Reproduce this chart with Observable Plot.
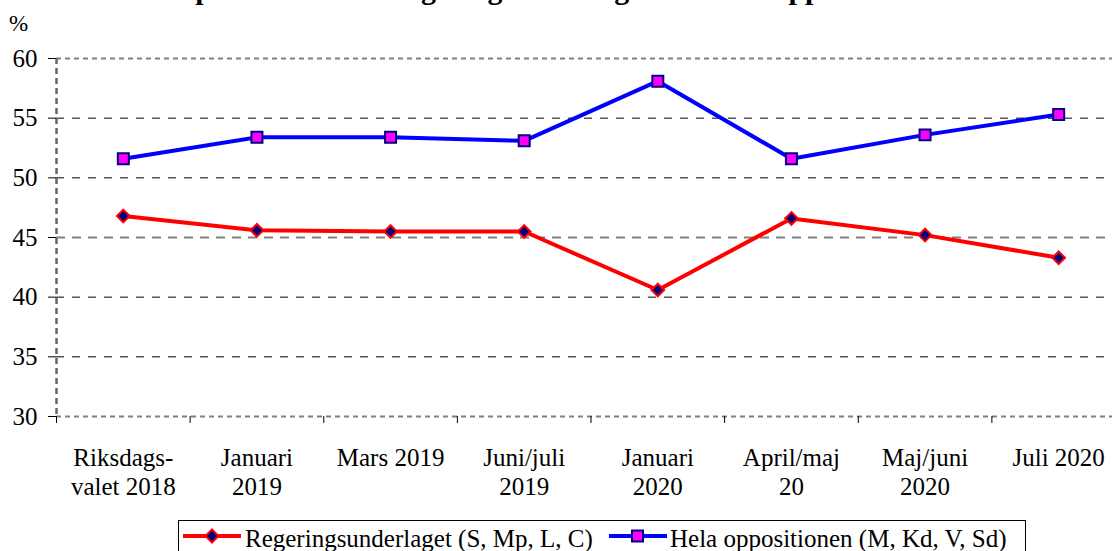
<!DOCTYPE html>
<html><head><meta charset="utf-8">
<script src="https://cdn.jsdelivr.net/npm/d3@7"></script>
<script src="https://cdn.jsdelivr.net/npm/@observablehq/plot@0.6"></script>
<style>
body{margin:0;background:#fff;font-family:"Liberation Serif","Times New Roman",serif;color:#000;}
#wrap{position:relative;width:1112px;height:551px;overflow:hidden;background:#fff;}
#title{position:absolute;left:172px;top:-26px;font-weight:bold;font-size:30px;line-height:30px;white-space:nowrap;font-family:"Liberation Serif",serif;}
#pct{position:absolute;left:9px;top:11px;font-size:23px;line-height:25px;font-family:"Liberation Serif",serif;}
#chart{position:absolute;left:0;top:0;}
#legend{position:absolute;left:178px;top:520px;width:846px;height:44px;border:1px solid #000;background:#fff;}
#legend .sw{position:absolute;top:0;}
#legend .lt{position:absolute;top:5px;font-size:25px;line-height:25px;white-space:nowrap;font-family:"Liberation Serif",serif;}
svg text{font-family:"Liberation Serif",serif;}
</style>
</head><body>
<div id="wrap">
  <div id="title">Opinionsstöd för regeringsunderlaget och hela oppositionen</div>
  <div id="pct">%</div>
  <div id="chart"></div>
  <div id="legend"></div>
</div>
<script>
const categories = ["Riksdags-\nvalet 2018", "Januari\n2019", "Mars 2019", "Juni/juli\n2019", "Januari\n2020", "April/maj\n20", "Maj/juni\n2020", "Juli 2020"];
const regering = [46.8, 45.6, 45.5, 45.5, 40.6, 46.6, 45.2, 43.3];
const opposition = [51.6, 53.4, 53.4, 53.1, 58.1, 51.6, 53.6, 55.3];
const yTicks = [30, 35, 40, 45, 50, 55, 60];
const seriesNames = ["Regeringsunderlaget (S, Mp, L, C)", "Hela oppositionen (M, Kd, V, Sd)"];

const pos = (d, i) => i + 0.5;
const boundaries = d3.range(categories.length + 1);

const chart = Plot.plot({
  width: 1112, height: 515,
  marginLeft: 56, marginRight: -13, marginTop: 58, marginBottom: 99,
  style: {fontFamily: "Liberation Serif", fontSize: "25px", color: "#000", background: "transparent", overflow: "visible"},
  x: {domain: [0, categories.length]},
  y: {domain: [30, 60]},
  marks: [
    Plot.ruleY([35, 40, 50, 55], {stroke: "#000", strokeWidth: 1, strokeDasharray: "8,8"}),
    Plot.ruleY([45], {stroke: "#808080", strokeWidth: 2, strokeDasharray: "9,7"}),
    Plot.ruleY([60, 30], {stroke: "#808080", strokeWidth: 2, strokeDasharray: "5,4"}),
    Plot.ruleX([0], {stroke: "#666", strokeWidth: 2.5, strokeDasharray: "6,4"}),
    Plot.axisY(yTicks, {tickSize: 8, tickPadding: 11, label: null, stroke: "#000", fontFamily: "Liberation Serif", fontSize: 25, fill: "#000"}),
    Plot.axisX(boundaries, {tickSize: 7, tickFormat: () => "", label: null, stroke: "#000"}),
    Plot.text(categories, {x: pos, frameAnchor: "bottom", lineAnchor: "top", dy: 29, lineHeight: 1.16, fontSize: 25, fontFamily: "Liberation Serif", textAnchor: "middle", fill: "#000"}),
    Plot.line(regering, {x: pos, y: d => d, stroke: "#FF0000", strokeWidth: 4}),
    Plot.line(opposition, {x: pos, y: d => d, stroke: "#0000FF", strokeWidth: 4}),
    Plot.dot(regering, {x: pos, y: d => d, symbol: "diamond2", r: 5.7, fill: "#000080", stroke: "#FF0000", strokeWidth: 2}),
    Plot.dot(opposition, {x: pos, y: d => d, symbol: "square", r: 6.2, fill: "#FF00FF", stroke: "#000080", strokeWidth: 2})
  ]
});
document.getElementById("chart").appendChild(chart);

// legend
const leg = document.getElementById("legend");
function swatch(left, lineColor, symbol, fill, stroke) {
  const s = d3.create("svg").attr("class", "sw").attr("width", 64).attr("height", 30).style("left", left + "px");
  s.append("line").attr("x1", 0).attr("x2", 58).attr("y1", 15).attr("y2", 15).attr("stroke", lineColor).attr("stroke-width", 4);
  if (symbol === "diamond") {
    s.append("path").attr("d", "M29,8.5L35.5,15L29,21.5L22.5,15Z").attr("fill", fill).attr("stroke", stroke).attr("stroke-width", 2);
  } else {
    s.append("rect").attr("x", 23).attr("y", 9.5).attr("width", 11).attr("height", 11).attr("fill", fill).attr("stroke", stroke).attr("stroke-width", 2);
  }
  leg.appendChild(s.node());
}
function label(left, text) {
  const d = document.createElement("div");
  d.className = "lt"; d.style.left = left + "px"; d.textContent = text;
  leg.appendChild(d);
}
swatch(4, "#FF0000", "diamond", "#000080", "#FF0000");
label(66, seriesNames[0]);
swatch(430, "#0000FF", "square", "#FF00FF", "#000080");
label(491, seriesNames[1]);
</script>
</body></html>
